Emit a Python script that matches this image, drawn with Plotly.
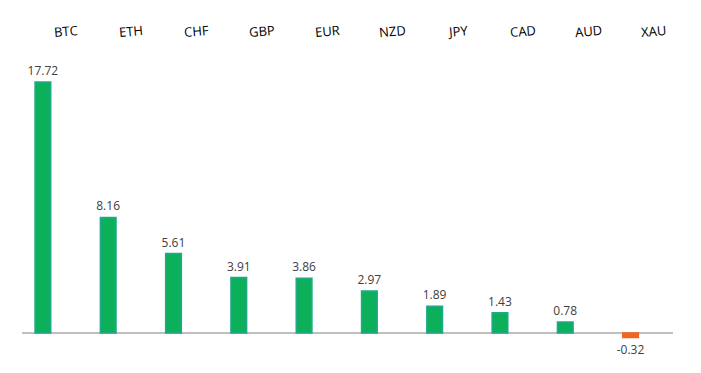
import plotly.graph_objects as go

categories = ["BTC", "ETH", "CHF", "GBP", "EUR", "NZD", "JPY", "CAD", "AUD", "XAU"]
values = [17.72, 8.16, 5.61, 3.91, 3.86, 2.97, 1.89, 1.43, 0.78, -0.32]

green = "#0CB05B"
green_edge = "#22A88A"
orange = "#F26522"

colors = [green if v >= 0 else orange for v in values]
edges = [green_edge if v >= 0 else orange for v in values]

fig = go.Figure()
fig.add_trace(go.Bar(
    x=categories, y=values,
    marker=dict(color=colors, line=dict(color=edges, width=1.5)),
    width=0.24,
    text=[f"{v:.2f}" for v in values],
    textposition="outside",
    constraintext="none",
    textfont=dict(family="Open Sans, Lato, sans-serif", size=12, color="#404040"),
    cliponaxis=False,
    hoverinfo="skip",
))

for c in categories:
    fig.add_annotation(
        x=c, y=1 - 23 / 373, xref="x", yref="paper", yanchor="middle",
        text=c, showarrow=False, textangle=-5, xshift=23,
        font=dict(family="Open Sans, Lato, sans-serif", size=13, color="#000000"),
    )

fig.update_layout(
    width=701, height=373,
    margin=dict(l=14, r=36, t=0, b=0),
    plot_bgcolor="white", paper_bgcolor="white",
    showlegend=False,
    xaxis=dict(range=[-0.32, 9.65], showticklabels=False, showgrid=False,
               zeroline=False, showline=False, ticks=""),
    yaxis=dict(range=[-3.39, 22.95], showticklabels=False, showgrid=False,
               zeroline=True, zerolinecolor="#BFBFBF", zerolinewidth=2,
               showline=False, ticks=""),
)

fig.write_html("out.html")
